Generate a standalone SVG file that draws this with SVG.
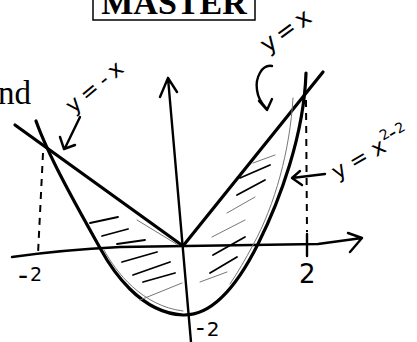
<svg xmlns="http://www.w3.org/2000/svg" width="417" height="342" viewBox="0 0 417 342">
<style>
.ink{fill:none;stroke:#000;stroke-linecap:round;stroke-linejoin:round}
.thick{stroke-width:3.2}
.med{stroke-width:2.4}
.hatch{stroke-width:1.8}
.thin{fill:none;stroke:#777;stroke-width:1;stroke-linecap:round}
.dash{fill:none;stroke:#000;stroke-width:2;stroke-dasharray:7 6}
.hand{font-family:"DejaVu Sans",sans-serif;fill:#000}
.serif{font-family:"Liberation Serif","Times New Roman",serif;fill:#000}
</style>
<rect width="417" height="342" fill="#fff"/>
<g id="header">
<rect x="93" y="-20" width="162" height="40" fill="none" stroke="#000" stroke-width="1.5"/>
<text class="serif" x="174" y="14" font-size="34" font-weight="bold" text-anchor="middle">MASTER</text>
<text class="serif" x="31" y="104" font-size="33" text-anchor="end">nd</text>
</g>
<g id="connectors">
<path id="x-axis" class="ink med" d="M12,257 C40,253 80,249 120,247 L318,244 L362,238 M348,233 L362,238 L350,252"/>
<path id="y-axis" class="ink med" d="M191,342 L168,78 M160,97 L168,78 L177,92"/>
<path id="line-neg" class="ink thick" d="M15,125 L183,246"/>
<path id="line-pos" class="ink thick" d="M183,246 L323,72"/>
<path id="parabola" class="ink thick" d="M36,121 C50,160 80,212 100,248 C112,270 140,313 183,315 C215,316 240,280 258,244 C280,200 304,135 306,73"/>
<path class="thin" d="M104,250 C116,272 142,306 183,311"/>
<path class="thin" d="M293,98 C290,150 275,205 253,245 C245,260 238,272 230,284"/>
<path class="thin" d="M137,220 L178,245"/>
<path class="dash" d="M43,153 L38,254"/>
<path class="dash" d="M306,100 L307,232"/>
<path class="ink med" d="M307,234 L307,256"/>
<path id="arrow-neg" class="ink med" d="M80,117 L65,148 M60,137 L64,149 L75,145"/>
<path id="arrow-pos" class="ink med" d="M272,66 C262,64 255,78 257,90 C258,98 262,104 266,108 M259,101 L267,110 L272,99"/>
<path id="arrow-par" class="ink med" d="M325,174 L292,178 M300,171 L292,178 L302,185"/>
</g>
<g id="hatching">
<path class="ink hatch" d="M90,223 L118,217 M102,236 L128,229 M117,244 L145,240 M122,262 L157,252 M133,275 L170,262 M143,282 L175,273"/>
<path class="ink hatch" d="M240,178 L270,165 M237,195 L265,180 M213,255 L245,237 M210,273 L237,257"/>
<path class="thin" d="M140,300 L182,283 M253,163 L275,155 M227,213 L255,197 M212,237 L245,220 M200,282 L227,272"/>
</g>
<g id="labels">
<text class="hand" x="101" y="91" font-size="22" letter-spacing="5" text-anchor="middle" transform="rotate(-40 101 91)">y=-x</text>
<text class="hand" x="292" y="36" font-size="24" letter-spacing="4" text-anchor="middle" transform="rotate(-36 292 36)">y=x</text>
<text class="hand" x="337" y="180" font-size="22" transform="rotate(-30 337 180)">y = x<tspan font-size="14" dx="1" dy="-11">2</tspan><tspan dx="-1" dy="5">-</tspan><tspan font-size="14" dx="1" dy="-3">2</tspan></text>
<text class="hand" x="18" y="285" font-size="19"><tspan font-size="28">-</tspan><tspan dx="2" dy="-4">2</tspan></text>
<text class="hand" x="196" y="336" font-size="20"><tspan font-size="24">-</tspan><tspan dx="2">2</tspan></text>
<text class="hand" x="299" y="283" font-size="26">2</text>
</g>
</svg>
